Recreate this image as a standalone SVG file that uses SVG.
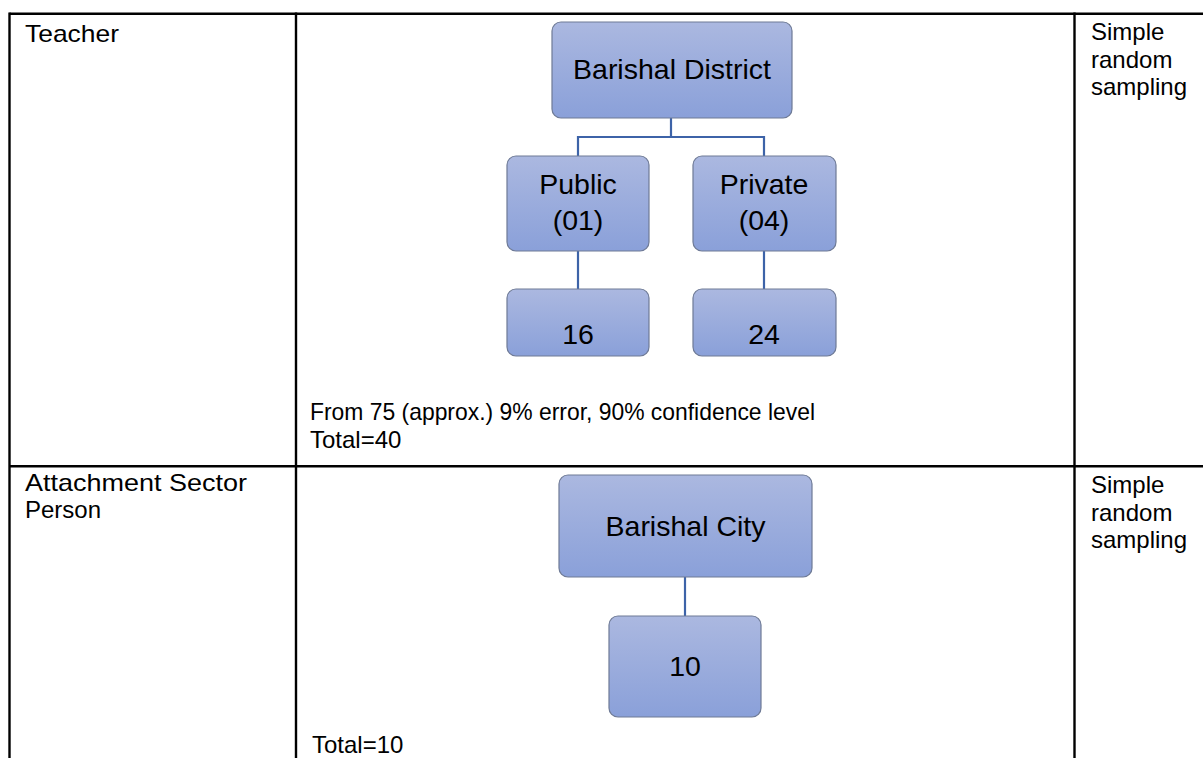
<svg xmlns="http://www.w3.org/2000/svg" width="1203" height="758" viewBox="0 0 1203 758">
<defs>
<linearGradient id="boxfill" x1="0" y1="0" x2="0" y2="1">
<stop offset="0" stop-color="#abb8e0"/>
<stop offset="1" stop-color="#8aa0d9"/>
</linearGradient>
</defs>
<style>
.grid{stroke:#000;stroke-width:2.4;fill:none}
.box{fill:url(#boxfill);stroke:#6e7a96;stroke-width:1.2}
.conn{stroke:#3d63a8;stroke-width:2.2;fill:none}
.body{font-family:"Liberation Sans",Arial,sans-serif;font-size:24px;fill:#000}
.lbl{font-family:"Liberation Sans",Arial,sans-serif;font-size:28.5px;fill:#000;text-anchor:middle}
</style>
<rect width="1203" height="758" fill="#fff"/>
<g id="table">
<line class="grid" x1="9.5" y1="13.7" x2="1203" y2="13.7"/>
<line class="grid" x1="9.5" y1="466.3" x2="1203" y2="466.3"/>
<line class="grid" x1="9.5" y1="12.5" x2="9.5" y2="758"/>
<line class="grid" x1="296" y1="12.5" x2="296" y2="758"/>
<line class="grid" x1="1074.5" y1="12.5" x2="1074.5" y2="758"/>
</g>
<g id="cell-texts">
<text class="body" x="25" y="42" textLength="94" lengthAdjust="spacingAndGlyphs">Teacher</text>
<text class="body" x="1091" y="40">Simple</text>
<text class="body" x="1091" y="67.5">random</text>
<text class="body" x="1091" y="95">sampling</text>
<text class="body" x="310" y="420" textLength="505" lengthAdjust="spacingAndGlyphs">From 75 (approx.) 9% error, 90% confidence level</text>
<text class="body" x="310" y="447.5">Total=40</text>
<text class="body" x="25" y="490.5" textLength="222" lengthAdjust="spacingAndGlyphs">Attachment Sector</text>
<text class="body" x="25" y="518">Person</text>
<text class="body" x="1091" y="493">Simple</text>
<text class="body" x="1091" y="520.5">random</text>
<text class="body" x="1091" y="548">sampling</text>
<text class="body" x="312" y="752.5">Total=10</text>
</g>
<g id="connectors">
<polyline class="conn" points="671,118 671,137 578,137 578,156"/>
<polyline class="conn" points="671,137 764,137 764,156"/>
<line class="conn" x1="578" y1="251" x2="578" y2="289"/>
<line class="conn" x1="764" y1="251" x2="764" y2="289"/>
<line class="conn" x1="685" y1="577" x2="685" y2="616"/>
</g>
<g id="barishal-district">
<rect class="box" x="552" y="22" width="240" height="96" rx="9"/>
<text class="lbl" x="672" y="79">Barishal District</text>
</g>
<g id="public">
<rect class="box" x="507" y="156" width="142" height="95" rx="9"/>
<text class="lbl" x="578" y="194">Public</text>
<text class="lbl" x="578" y="230">(01)</text>
</g>
<g id="private">
<rect class="box" x="693" y="156" width="143" height="95" rx="9"/>
<text class="lbl" x="764" y="194">Private</text>
<text class="lbl" x="764" y="230">(04)</text>
</g>
<g id="n16">
<rect class="box" x="507" y="289" width="142" height="67" rx="9"/>
<text class="lbl" x="578" y="344">16</text>
</g>
<g id="n24">
<rect class="box" x="693" y="289" width="143" height="67" rx="9"/>
<text class="lbl" x="764" y="344">24</text>
</g>
<g id="barishal-city">
<rect class="box" x="559" y="475" width="253" height="102" rx="9"/>
<text class="lbl" x="685.5" y="536">Barishal City</text>
</g>
<g id="n10">
<rect class="box" x="609" y="616" width="152" height="101" rx="9"/>
<text class="lbl" x="685" y="676">10</text>
</g>
</svg>
